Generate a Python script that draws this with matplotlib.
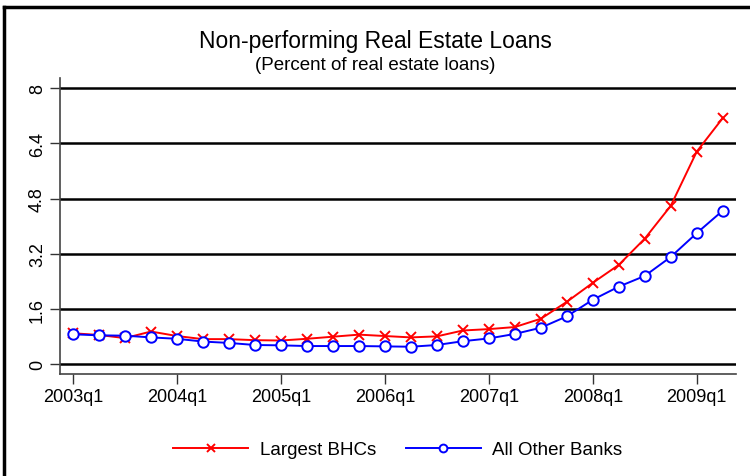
import matplotlib
matplotlib.use("Agg")
import matplotlib.pyplot as plt
from matplotlib.lines import Line2D
import numpy as np

plt.rcParams['font.family'] = ['Liberation Sans', 'DejaVu Sans']

# quarterly data, 2003q1 .. 2009q2
quarters = [f"{y}q{q}" for y in range(2003, 2010) for q in range(1, 5)][:26]
largest_bhcs = [0.90, 0.85, 0.76, 0.95, 0.82, 0.73, 0.73, 0.70, 0.69, 0.74,
                0.80, 0.86, 0.82, 0.78, 0.81, 0.98, 1.02, 1.08, 1.32, 1.81,
                2.36, 2.88, 3.64, 4.59, 6.16, 7.13]
other_banks = [0.87, 0.84, 0.83, 0.78, 0.74, 0.66, 0.62, 0.56, 0.55, 0.53,
               0.53, 0.53, 0.52, 0.51, 0.56, 0.67, 0.75, 0.88, 1.06, 1.39,
               1.87, 2.25, 2.56, 3.11, 3.80, 4.45]
yticks = [0, 1.6, 3.2, 4.8, 6.4, 8]

fig = plt.figure(figsize=(7.5, 4.77), dpi=100)
ax = fig.add_axes([0.08, 0.2138, 0.901, 0.6206])

x = np.arange(len(quarters))
ax.plot(x, largest_bhcs, color="red", lw=1.4, marker="x", ms=7, mew=1.4,
        label="Largest BHCs", zorder=3)
ax.plot(x, other_banks, color="blue", lw=1.4, marker="o", ms=7.5, mew=1.4,
        mfc="white", label="All Other Banks", zorder=3)

ax.set_xlim(-0.5, 25.5)
ax.set_ylim(-0.28, 8.29)
ax.set_yticks(yticks)
ax.set_yticklabels(["0", "1.6", "3.2", "4.8", "6.4", "8"], rotation=90,
                   va="center", fontsize=13)
xt = x[::4]
ax.set_xticks(xt)
ax.set_xticklabels([quarters[i] for i in xt], fontsize=13)
ax.tick_params(length=7, width=1, color="#333333", pad=3)

for v in yticks:
    ax.axhline(v, color="black", lw=1.8, zorder=1)

for s in ["top", "right"]:
    ax.spines[s].set_visible(False)
for s in ["left", "bottom"]:
    ax.spines[s].set_color("#444444")
    ax.spines[s].set_linewidth(1.2)

fig.text(0.5, 1 - 48 / 477, "Non-performing Real Estate Loans",
         ha="center", va="baseline", fontsize=16.5)
fig.text(0.5, 1 - 70 / 477, "(Percent of real estate loans)",
         ha="center", va="baseline", fontsize=13.5)

ax.legend(loc="center", bbox_to_anchor=(0.5, -0.255), ncol=2, frameon=False,
          fontsize=13.5, handlelength=4, handletextpad=0.6, columnspacing=1.6,
          markerscale=0.75)

# outer frame (only top and left edges visible)
fig.add_artist(Line2D([4 / 750, 1], [1 - 8 / 477, 1 - 8 / 477],
                      transform=fig.transFigure, color="black", lw=2.5))
fig.add_artist(Line2D([4 / 750, 4 / 750], [0, 1 - 8 / 477],
                      transform=fig.transFigure, color="black", lw=2.5))

fig.savefig("out.png", dpi=100, facecolor="white")
